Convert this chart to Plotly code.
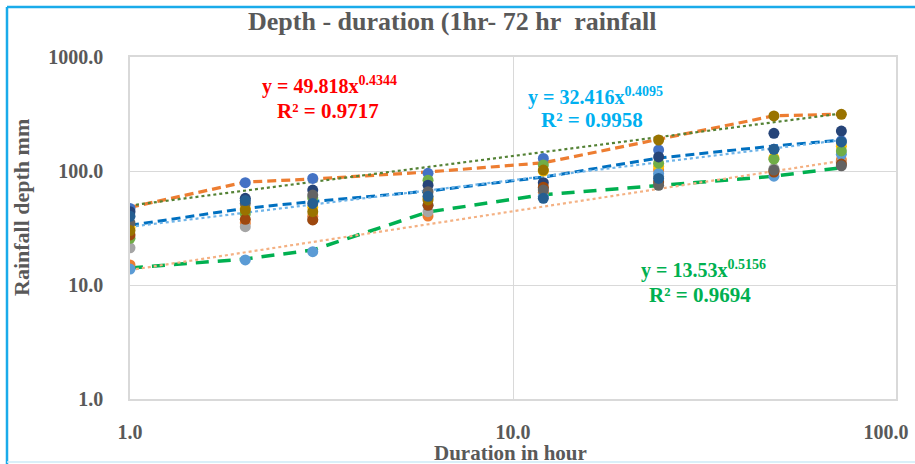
import plotly.graph_objects as go

# Storm durations (hours)
durations = [1, 2, 3, 6, 12, 24, 48, 72]

# Axis ticks
x_tickvals = [1, 10, 100]
x_ticktext = ["1.0", "10.0", "100.0"]
y_tickvals = [1, 10, 100, 1000]
y_ticktext = ["1.0", "10.0", "100.0", "1000.0"]

# Rainfall depth (mm) recorded at each station for every duration
station_colors = ["#4472C4", "#ED7D31", "#A5A5A5", "#FFC000", "#5B9BD5", "#70AD47",
                  "#264478", "#9E480E", "#636363", "#997300", "#255E91"]
station_a = [47, 79, 86, 95.5, 129, 153, 155, 184]
station_b = [15, 35, 40, 40.3, 65, 102, 100, 125]
station_c = [21.2, 32.5, 37.5, 44, 70, 90, 105, 118]
station_d = [32, 47, 48, 58, 100, 110, 130, 165]
station_e = [13.8, 16.6, 19.6, 50, 60, 95, 90, 140]
station_f = [25.7, 42, 58, 83, 113, 117, 127, 150]
station_g = [44, 57.6, 68, 75, 79, 133, 214, 224]
station_h = [27.5, 37.7, 37.2, 50, 72, 80, 98, 115]
station_i = [35, 52, 61.5, 65.8, 68, 75, 102, 111]
station_j = [30, 45.5, 44, 55.7, 102, 187, 304, 314]
station_k = [40, 55, 52, 60, 57.6, 86, 155, 180]
stations = [station_a, station_b, station_c, station_d, station_e, station_f,
            station_g, station_h, station_i, station_j, station_k]

# Envelope and average depth curves
max_depth = [48, 80, 85, 98, 118, 190, 305, 315]
mean_depth = [33.4, 47, 54, 66.6, 88.5, 130, 166, 187]
min_depth = [14.1, 16.9, 20.3, 43.7, 62, 75, 90, 107]

# Power-law fits y = a * x^b (max, mean, min)
fit_a = [49.818, 32.416, 13.53]
fit_b = [0.4344, 0.4095, 0.5156]
fit_r2 = [0.9717, 0.9958, 0.9694]

W, H = 915, 464
L, R, T, B = 130, 896, 57, 399
FONT = "Liberation Serif"
GREY = "#595959"

fig = go.Figure()

# connected envelope / mean curves
fig.add_trace(go.Scatter(x=durations, y=max_depth, mode="lines",
                         line=dict(color="#ED7D31", width=3.2, dash="9px,5px")))
fig.add_trace(go.Scatter(x=durations, y=min_depth, mode="lines",
                         line=dict(color="#00B050", width=3.5, dash="13px,9px")))
fig.add_trace(go.Scatter(x=durations, y=mean_depth, mode="lines",
                         line=dict(color="#0070C0", width=3, dash="9px,5px")))

# power-law trendlines from the fitted coefficients
trend_styles = [("#548235", 2.2), ("#6FB4E8", 2.2), ("#F4B183", 2.2)]
for a, b, (col, w) in zip(fit_a, fit_b, trend_styles):
    fig.add_trace(go.Scatter(x=durations, y=[a * d ** b for d in durations], mode="lines",
                             line=dict(color=col, width=w, dash="dot")))

# station markers
for vals, col in zip(stations, station_colors):
    fig.add_trace(go.Scatter(x=durations, y=vals, mode="markers",
                             marker=dict(color=col, size=11, line=dict(width=0))))

def px(xp):
    return (xp - L) / (R - L)

def py(yp):
    return (B - yp) / (B - T)

# equation labels
eq_specs = [(0, "#FF0000", 329, 85, 328, 111),
            (1, "#00B0F0", 595, 96, 592, 120),
            (2, "#00B050", 703, 269, 700, 295)]
annotations = []
for i, col, x1, y1, x2, y2 in eq_specs:
    annotations.append(dict(x=px(x1), y=py(y1), xref="paper", yref="paper", showarrow=False,
                            text=f"<b>y = {fit_a[i]}x<sup>{fit_b[i]}</sup></b>",
                            font=dict(family=FONT, size=20, color=col), xanchor="center", yanchor="middle"))
    annotations.append(dict(x=px(x2), y=py(y2), xref="paper", yref="paper", showarrow=False,
                            text=f"<b>R² = {fit_r2[i]}</b>",
                            font=dict(family=FONT, size=21, color=col), xanchor="center", yanchor="middle"))

# titles
annotations.append(dict(x=px(452), y=py(22), xref="paper", yref="paper", showarrow=False,
                        text="<b>Depth - duration (1hr- 72 hr&nbsp; rainfall</b>",
                        font=dict(family=FONT, size=26, color=GREY), xanchor="center", yanchor="middle"))
annotations.append(dict(x=px(510), y=py(453), xref="paper", yref="paper", showarrow=False,
                        text="<b>Duration in hour</b>",
                        font=dict(family=FONT, size=21, color=GREY), xanchor="center", yanchor="middle"))
annotations.append(dict(x=px(21), y=py(208), xref="paper", yref="paper", showarrow=False,
                        text="<b>Rainfall depth mm</b>", textangle=-90,
                        font=dict(family=FONT, size=22, color=GREY), xanchor="center", yanchor="middle"))

# frame around the chart
shapes = [
    dict(type="line", xref="paper", yref="paper", x0=px(7), x1=px(7), y0=py(7), y1=py(470),
         line=dict(color="#1AABEA", width=2.5)),
    dict(type="line", xref="paper", yref="paper", x0=px(7), x1=px(920), y0=py(7), y1=py(7),
         line=dict(color="#1AABEA", width=2.5)),
    dict(type="line", xref="paper", yref="paper", x0=px(7), x1=px(920), y0=py(462), y1=py(462),
         line=dict(color="#CDEBF7", width=1.5)),
]

axis_common = dict(type="log", showgrid=True, gridcolor="#D9D9D9", gridwidth=1,
                   showline=True, linecolor="#D9D9D9", linewidth=1.5, mirror=True,
                   zeroline=False, ticks="",
                   ticklabeloverflow="allow", automargin=False,
                   tickfont=dict(family=FONT, size=20, color=GREY))

# last x label is nudged left so it stays inside the page
x_labels = [f"<b>{t}</b>" for t in x_ticktext]
x_labels[-1] = x_labels[-1] + "&nbsp;&nbsp;&nbsp;&nbsp;"
y_labels = [f"<b>{t}</b>" for t in y_ticktext]

fig.update_layout(
    width=W, height=H, showlegend=False,
    margin=dict(l=L, r=W - R, t=T, b=H - B, autoexpand=False),
    paper_bgcolor="white", plot_bgcolor="white",
    xaxis=dict(axis_common, range=[0, 2], tickvals=x_tickvals, ticktext=x_labels,
               ticklabelstandoff=14),
    yaxis=dict(axis_common, range=[0, 3], tickvals=y_tickvals, ticktext=y_labels,
               ticklabelstandoff=21),
    annotations=annotations, shapes=shapes,
)

fig.write_html("out.html")
